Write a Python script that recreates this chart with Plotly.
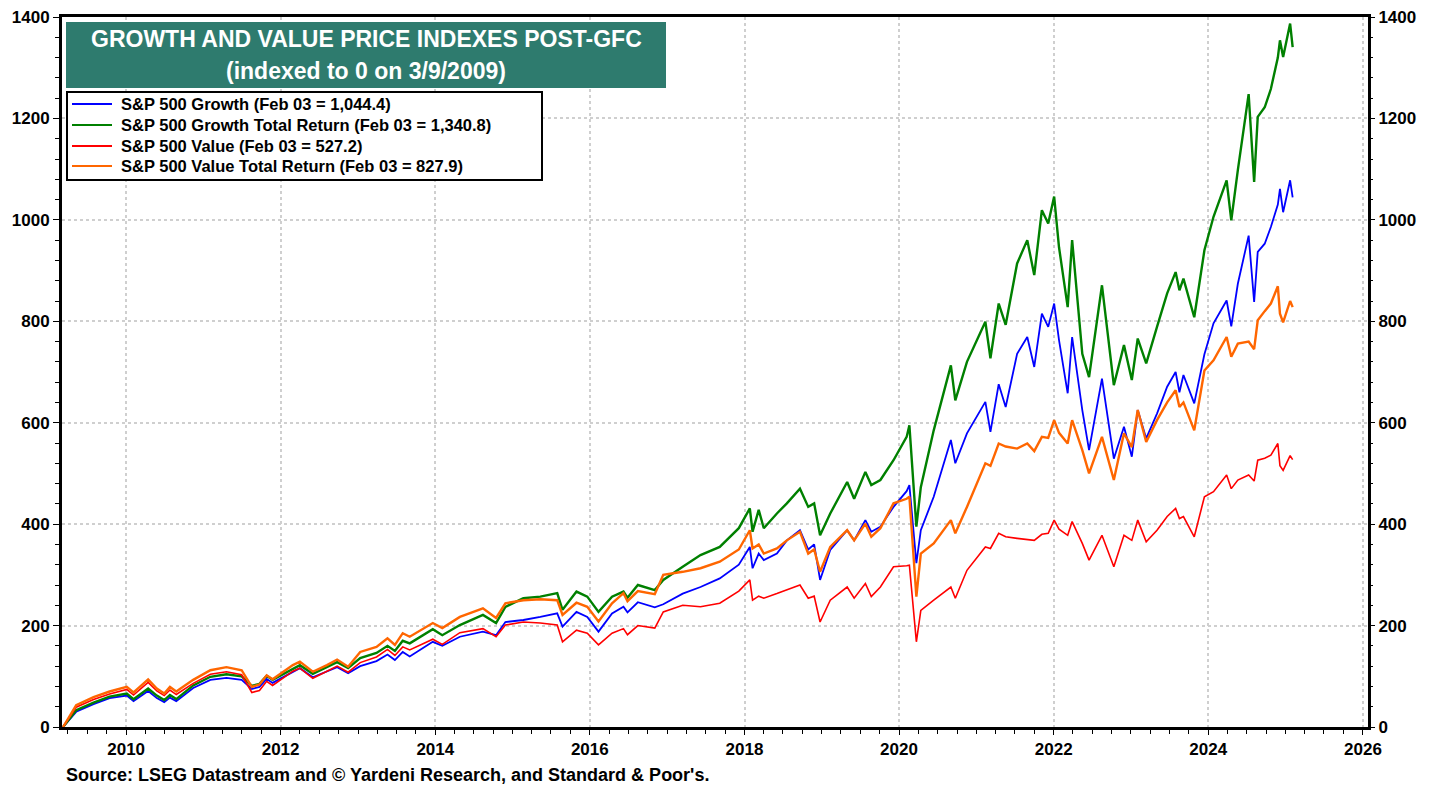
import plotly.graph_objects as go

# readings taken off the chart (percent change since 3/9/2009)
dates = [
    "2009-03-09", "2009-05-10", "2009-07-31", "2009-10-15", "2010-01-04", "2010-02-05",
    "2010-04-15", "2010-05-26", "2010-06-30", "2010-07-27", "2010-08-26", "2010-11-14",
    "2011-02-03", "2011-04-20", "2011-07-01", "2011-08-18", "2011-09-23", "2011-10-27",
    "2011-11-24", "2012-02-28", "2012-04-01", "2012-06-01", "2012-08-07", "2012-09-24",
    "2012-11-15", "2013-01-11", "2013-03-29", "2013-05-20", "2013-06-24", "2013-07-31",
    "2013-09-02", "2013-12-20", "2014-02-03", "2014-04-27", "2014-08-14", "2014-10-15",
    "2014-11-28", "2015-02-21", "2015-05-12", "2015-07-31", "2015-08-25", "2015-10-30",
    "2015-12-20", "2016-02-11", "2016-04-15", "2016-06-08", "2016-06-27", "2016-08-15",
    "2016-11-03", "2016-12-13", "2017-03-15", "2017-06-07", "2017-09-06", "2017-12-05",
    "2018-01-26", "2018-02-08", "2018-03-09", "2018-04-02", "2018-06-03", "2018-07-20",
    "2018-09-20", "2018-10-29", "2018-11-26", "2018-12-24", "2019-02-10", "2019-05-01",
    "2019-06-03", "2019-07-26", "2019-08-23", "2019-10-05", "2019-12-06", "2020-02-06",
    "2020-02-19", "2020-03-23", "2020-04-13", "2020-06-13", "2020-09-02", "2020-09-23",
    "2020-11-17", "2021-02-12", "2021-03-08", "2021-04-16", "2021-05-19", "2021-07-12",
    "2021-08-29", "2021-10-01", "2021-11-06", "2021-12-06", "2022-01-03", "2022-01-26",
    "2022-03-08", "2022-03-29", "2022-05-16", "2022-06-17", "2022-08-17", "2022-10-12",
    "2022-11-29", "2023-01-05", "2023-02-02", "2023-03-14", "2023-05-04", "2023-06-21",
    "2023-07-31", "2023-08-18", "2023-09-06", "2023-10-27", "2023-12-14", "2024-01-26",
    "2024-03-28", "2024-04-19", "2024-05-20", "2024-07-10", "2024-08-05", "2024-08-22",
    "2024-09-24", "2024-10-23", "2024-11-25", "2024-12-05", "2024-12-20", "2025-01-22",
    "2025-02-03",
]

growth = [
    0, 30, 45, 57, 62, 51, 71, 57, 49, 58, 51, 77,
    93, 97, 93, 75, 79, 95, 87, 109, 116, 98, 109, 118,
    106, 120, 130, 143, 132, 148, 139, 168, 160, 178, 188, 181,
    207, 211, 217, 224, 198, 227, 217, 188, 224, 237, 226, 246,
    236, 242, 263, 276, 293, 320, 355, 313, 342, 329, 342, 368,
    388, 350, 360, 290, 349, 388, 368, 408, 385, 395, 434, 465,
    477, 323, 388, 454, 566, 520, 579, 641, 582, 676, 631, 736,
    769, 710, 815, 789, 835, 763, 658, 769, 625, 546, 687, 529,
    592, 533, 625, 569, 618, 671, 700, 660, 694, 638, 735, 796,
    841, 790, 874, 969, 838, 937, 953, 986, 1030, 1061, 1015, 1078,
    1044.4,
]

growth_tr = [
    0, 33, 48, 60, 66, 55, 76, 62, 53, 63, 55, 82,
    99, 104, 100, 81, 85, 101, 93, 114, 122, 105, 118, 128,
    116, 136, 146, 160, 150, 170, 165, 193, 181, 201, 221, 205,
    237, 254, 257, 264, 231, 267, 257, 227, 257, 267, 255, 280,
    270, 290, 316, 339, 355, 392, 431, 385, 428, 392, 421, 441,
    470, 434, 441, 378, 421, 483, 450, 503, 477, 487, 526, 572,
    595, 395, 473, 585, 713, 644, 720, 799, 727, 835, 793, 914,
    960, 891, 1019, 993, 1046, 946, 828, 960, 736, 690, 871, 674,
    753, 684, 766, 717, 789, 855, 897, 861, 884, 808, 940, 1006,
    1078, 999, 1098, 1248, 1075, 1203, 1222, 1258, 1320, 1354, 1321, 1387,
    1340.8,
]

value = [
    0, 39, 54, 65, 74, 63, 88, 71, 62, 73, 64, 86,
    104, 109, 103, 68, 72, 90, 82, 110, 116, 96, 110, 120,
    108, 127, 138, 153, 141, 158, 152, 173, 163, 186, 194, 178,
    201, 207, 205, 201, 168, 191, 185, 162, 185, 194, 182, 200,
    195, 227, 240, 237, 244, 268, 290, 250, 258, 254, 263, 270,
    280, 254, 258, 207, 250, 276, 254, 283, 257, 276, 316, 318,
    319, 168, 230, 250, 276, 254, 309, 355, 352, 382, 375, 372,
    370, 368, 380, 382, 408, 390, 378, 405, 362, 329, 378, 316,
    378, 368, 408, 365, 388, 415, 431, 411, 415, 375, 454, 464,
    497, 470, 487, 497, 485, 526, 530, 536, 559, 515, 506, 535,
    527.2,
]

value_tr = [
    0, 43, 59, 70, 79, 68, 94, 76, 66, 79, 70, 93,
    112, 118, 112, 79, 84, 102, 94, 122, 129, 109, 122, 133,
    119, 148, 158, 175, 162, 185, 178, 205, 195, 217, 234, 215,
    244, 250, 252, 250, 221, 245, 237, 208, 244, 264, 248, 268,
    262, 300, 306, 313, 326, 350, 388, 352, 360, 342, 352, 368,
    385, 342, 350, 306, 355, 388, 368, 401, 375, 392, 441, 450,
    454, 257, 342, 362, 408, 382, 434, 520, 515, 559, 553, 549,
    559, 544, 572, 570, 605, 580, 559, 605, 546, 500, 572, 487,
    579, 552, 625, 562, 605, 640, 664, 631, 640, 585, 703, 723,
    769, 730, 756, 760, 745, 802, 820, 835, 869, 815, 798, 840,
    827.9,
]

series = [
    ("S&P 500 Growth (Feb 03 = 1,044.4)", growth, "#0000ff", 1.8),
    ("S&P 500 Growth Total Return (Feb 03 = 1,340.8)", growth_tr, "#008000", 2.4),
    ("S&P 500 Value (Feb 03 = 527.2)", value, "#ff0000", 1.6),
    ("S&P 500 Value Total Return (Feb 03 = 827.9)", value_tr, "#ff6600", 2.4),
]

# plot area in pixels of the 1441x787 page
L, R, T, B = 62, 1368, 17, 727
W, H = 1441, 787


def px(x):
    return (x - L) / (R - L)


def py(y):
    return (B - y) / (B - T)


font = "Arial, Liberation Sans, sans-serif"

fig = go.Figure()
for name, vals, color, width in series:
    fig.add_trace(go.Scatter(x=dates, y=vals, name=name, mode="lines",
                             line=dict(color=color, width=width), showlegend=False))

# dummy point so the right-hand axis gets drawn
fig.add_trace(go.Scatter(x=[dates[0]], y=[0], yaxis="y2", mode="markers",
                         marker=dict(opacity=0), showlegend=False, hoverinfo="skip"))

tickfont = dict(family=font, size=17, color="black", weight="bold")

shapes = [
    # title box
    dict(type="rect", xref="paper", yref="paper",
         x0=px(66), x1=px(666), y0=py(88), y1=py(22),
         fillcolor="#2e7b6e", line=dict(width=0), layer="above"),
    # legend box
    dict(type="rect", xref="paper", yref="paper",
         x0=px(67), x1=px(542), y0=py(180), y1=py(92),
         fillcolor="white", line=dict(color="black", width=2), layer="above"),
]
annotations = [
    dict(text="GROWTH AND VALUE PRICE INDEXES POST-GFC", xref="paper", yref="paper",
         x=px(366), y=py(39), xanchor="center", yanchor="middle", showarrow=False,
         font=dict(family=font, size=23, color="white", weight="bold")),
    dict(text="(indexed to 0 on 3/9/2009)", xref="paper", yref="paper",
         x=px(366), y=py(71), xanchor="center", yanchor="middle", showarrow=False,
         font=dict(family=font, size=23, color="white", weight="bold")),
    dict(text="Source: LSEG Datastream and © Yardeni Research, and Standard & Poor's.",
         xref="paper", yref="paper", x=px(64), y=py(775), xanchor="left",
         yanchor="middle", showarrow=False,
         font=dict(family=font, size=18, color="black", weight="bold")),
]

# legend rows drawn by hand so the row spacing matches the original
row_y = [104, 125, 146, 166]
for (name, vals, color, width), ry in zip(series, row_y):
    shapes.append(dict(type="line", xref="paper", yref="paper",
                       x0=px(72), x1=px(112), y0=py(ry), y1=py(ry),
                       line=dict(color=color, width=2), layer="above"))
    annotations.append(dict(text=name, xref="paper", yref="paper",
                            x=px(119), y=py(ry), xanchor="left", yanchor="middle",
                            showarrow=False,
                            font=dict(family=font, size=16.5, color="black", weight="bold")))

fig.update_layout(
    width=W, height=H,
    margin=dict(l=L, r=W - R, t=T, b=H - B, autoexpand=False),
    paper_bgcolor="white", plot_bgcolor="white",
    showlegend=False,
    xaxis=dict(
        type="date", range=["2009-03-04", "2026-01-25"],
        tick0="2010-01-01", dtick="M24", tickformat="%Y",
        ticks="outside", ticklen=5, tickwidth=1, tickcolor="black",
        tickfont=tickfont,
        showline=True, linecolor="black", linewidth=3, mirror=True,
        showgrid=True, gridcolor="#cfcfcf", griddash="dot", gridwidth=1.5,
        minor=dict(dtick="M3", tick0="2010-01-01", ticks="outside", ticklen=4,
                   tickcolor="black", showgrid=False),
        zeroline=False,
    ),
    yaxis=dict(
        range=[0, 1400], dtick=200, tick0=0,
        ticks="outside", ticklen=6, tickwidth=1, tickcolor="black",
        tickfont=tickfont,
        showline=True, linecolor="black", linewidth=3, mirror=True,
        showgrid=True, gridcolor="#cfcfcf", griddash="dot", gridwidth=1.5,
        minor=dict(dtick=40, ticks="outside", ticklen=4, tickcolor="black", showgrid=False),
        zeroline=False,
    ),
    yaxis2=dict(
        overlaying="y", side="right", range=[0, 1400], dtick=200, tick0=0,
        ticks="outside", ticklen=6, tickwidth=1, tickcolor="black",
        tickfont=tickfont, showgrid=False, showline=False, zeroline=False,
        minor=dict(dtick=40, ticks="outside", ticklen=4, tickcolor="black", showgrid=False),
    ),
    shapes=shapes,
    annotations=annotations,
)

fig.write_html("out.html", config={"displayModeBar": False},
               post_script="document.body.style.margin='0px';")
